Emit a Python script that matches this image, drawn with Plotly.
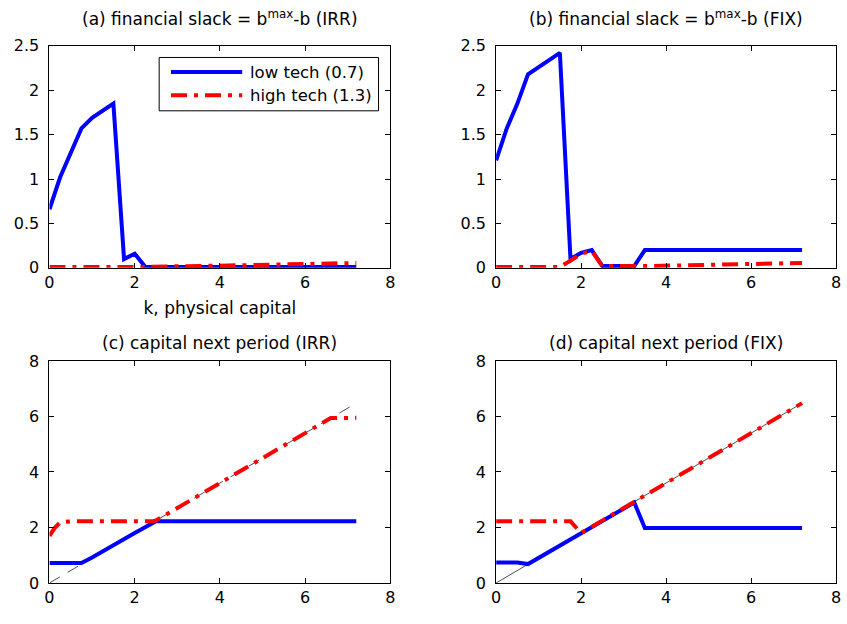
import plotly.graph_objects as go

# grid points of physical capital k and policy values per panel
# (a) financial slack, IRR
k_a_low = [0, 0.25, 0.75, 1.0, 1.5, 1.75, 2.0, 2.25, 7.2]
slack_irr_low = [0.66, 1.02, 1.57, 1.69, 1.85, 0.10, 0.16, 0.01, 0.01]
k_a_high = [0, 2.0, 4.0, 6.0, 7.2]
slack_irr_high = [0.01, 0.01, 0.025, 0.04, 0.055]

# (b) financial slack, FIX
k_b_low = [0, 0.25, 0.5, 0.75, 1.5, 1.75, 2.0, 2.25, 2.5, 3.25, 3.5, 7.2]
slack_fix_low = [1.21, 1.57, 1.85, 2.18, 2.42, 0.10, 0.17, 0.20, 0.02, 0.02, 0.20, 0.20]
k_b_high = [0, 1.5, 1.75, 2.0, 2.25, 2.5, 3.5, 5.0, 7.2]
slack_fix_high = [0.01, 0.01, 0.08, 0.16, 0.19, 0.02, 0.02, 0.035, 0.055]

# (c) capital next period, IRR
k_c_low = [0, 0.75, 1.0, 1.5, 2.0, 2.5, 7.2]
kp_irr_low = [0.72, 0.72, 0.92, 1.37, 1.80, 2.22, 2.22]
k_c_high = [0, 0.12, 0.25, 0.5, 2.4, 2.5, 6.6, 6.75, 7.2]
kp_irr_high = [1.70, 1.98, 2.18, 2.22, 2.22, 2.25, 5.94, 5.95, 5.95]

# (d) capital next period, FIX
k_d_low = [0, 0.5, 0.75, 1.0, 2.0, 3.25, 3.5, 7.2]
kp_fix_low = [0.74, 0.74, 0.68, 0.90, 1.80, 2.90, 1.98, 1.98]
k_d_high = [0, 1.75, 2.0, 7.2]
kp_fix_high = [2.22, 2.22, 1.80, 6.48]

# undepreciated-capital reference line
k_ref = [0, 7.2]
kp_ref = [0, 6.48]

series_names = ["low tech (0.7)", "high tech (1.3)"]
titles = [
    "(a) financial slack = b<sup>max</sup>-b (IRR)",
    "(b) financial slack = b<sup>max</sup>-b (FIX)",
    "(c) capital next period (IRR)",
    "(d) capital next period (FIX)",
]
x_label = "k, physical capital"

W, H = 847, 624
BLUE = "rgb(0,0,255)"
RED = "rgb(255,0,0)"
FONT = "DejaVu Sans, Liberation Sans, Arial, sans-serif"
TICK_FS = 16
TITLE_FS = 17
LABEL_FS = 17
LEGEND_FS = 16.5
DASHDOT = "16px,7px,4px,7px"
LW = 4

# axes boxes in pixels: (left, right, top, bottom)
boxes = [
    (45, 390, 38, 267),
    (497, 841, 38, 267),
    (45, 390, 363, 592),
    (497, 841, 363, 592),
]
# gap between title box bottom and axes top
title_gaps = [15, 15, 6, 6]

fig = go.Figure()

panels = [
    (k_a_low, slack_irr_low, k_a_high, slack_irr_high, None),
    (k_b_low, slack_fix_low, k_b_high, slack_fix_high, None),
    (k_c_low, kp_irr_low, k_c_high, kp_irr_high, "dash"),
    (k_d_low, kp_fix_low, k_d_high, kp_fix_high, "solid"),
]

for i, (kl, vl, kh, vh, ref_style) in enumerate(panels):
    ax = "" if i == 0 else str(i + 1)
    xa, ya = "x" + ax, "y" + ax
    if ref_style is not None:
        fig.add_trace(go.Scatter(
            x=k_ref, y=kp_ref, mode="lines", xaxis=xa, yaxis=ya,
            line=dict(color="black", width=0.7,
                      dash="12px,9px" if ref_style == "dash" else "solid"),
            showlegend=False, hoverinfo="skip"))
    fig.add_trace(go.Scatter(
        x=kl, y=vl, mode="lines", xaxis=xa, yaxis=ya, name=series_names[0],
        line=dict(color=BLUE, width=LW), showlegend=False))
    fig.add_trace(go.Scatter(
        x=kh, y=vh, mode="lines", xaxis=xa, yaxis=ya, name=series_names[1],
        line=dict(color=RED, width=LW, dash=DASHDOT), showlegend=False))

axis_common = dict(
    showline=True, linecolor="black", linewidth=1, mirror="allticks",
    ticks="inside", ticklen=5, tickwidth=1, tickcolor="black",
    showgrid=False, zeroline=False, ticklabeloverflow="allow",
    tickfont=dict(family=FONT, size=TICK_FS, color="black"),
)

shapes = []
annotations = []

yranges = [(0, 2.5), (0, 2.5), (0, 8), (0, 8)]
ytickvals = [[0, 0.5, 1, 1.5, 2, 2.5]] * 2 + [[0, 2, 4, 6, 8]] * 2
axes_layout = {}
for i, (l, r, t, b) in enumerate(boxes):
    ax = "" if i == 0 else str(i + 1)
    axes_layout["xaxis" + ax] = dict(
        axis_common, domain=[l / W, r / W], range=[0, 8],
        tickvals=[0, 2, 4, 6, 8], anchor="y" + ax)
    axes_layout["yaxis" + ax] = dict(
        axis_common, domain=[1 - b / H, 1 - t / H], range=list(yranges[i]),
        tickvals=ytickvals[i], ticktext=[("%g" % v) for v in ytickvals[i]],
        ticklabelstandoff=6, anchor="x" + ax)
    annotations.append(dict(
        text=titles[i], x=(l + r) / 2 / W, y=1 - (t - title_gaps[i]) / H,
        xref="paper", yref="paper", xanchor="center", yanchor="bottom",
        showarrow=False, font=dict(family=FONT, size=TITLE_FS, color="black")))

axes_layout["xaxis"]["title"] = dict(
    text=x_label, font=dict(family=FONT, size=LABEL_FS, color="black"),
    standoff=11)

# legend box drawn inside panel (a)
leg_l, leg_r, leg_t, leg_b = 156, 378, 50, 105
shapes.append(dict(
    type="rect", xref="paper", yref="paper",
    x0=leg_l / W, x1=leg_r / W, y0=1 - leg_b / H, y1=1 - leg_t / H,
    line=dict(color="black", width=1), fillcolor="white", layer="above"))
legend_rows = [
    (series_names[0], dict(color=BLUE, width=LW), 65),
    (series_names[1], dict(color=RED, width=LW, dash=DASHDOT), 89),
]
for name, line_style, ry in legend_rows:
    shapes.append(dict(
        type="line", xref="paper", yref="paper",
        x0=168 / W, x1=240 / W, y0=1 - ry / H, y1=1 - ry / H,
        line=line_style, layer="above"))
    annotations.append(dict(
        text=name, x=246 / W, y=1 - ry / H, xref="paper", yref="paper",
        xanchor="left", yanchor="middle", showarrow=False,
        font=dict(family=FONT, size=LEGEND_FS, color="black")))

fig.update_layout(
    width=W, height=H, margin=dict(l=0, r=0, t=0, b=0),
    paper_bgcolor="white", plot_bgcolor="white",
    font=dict(family=FONT, size=TICK_FS, color="black"),
    showlegend=False,
    shapes=shapes,
    annotations=annotations,
    **axes_layout,
)
fig.write_html("out.html")
